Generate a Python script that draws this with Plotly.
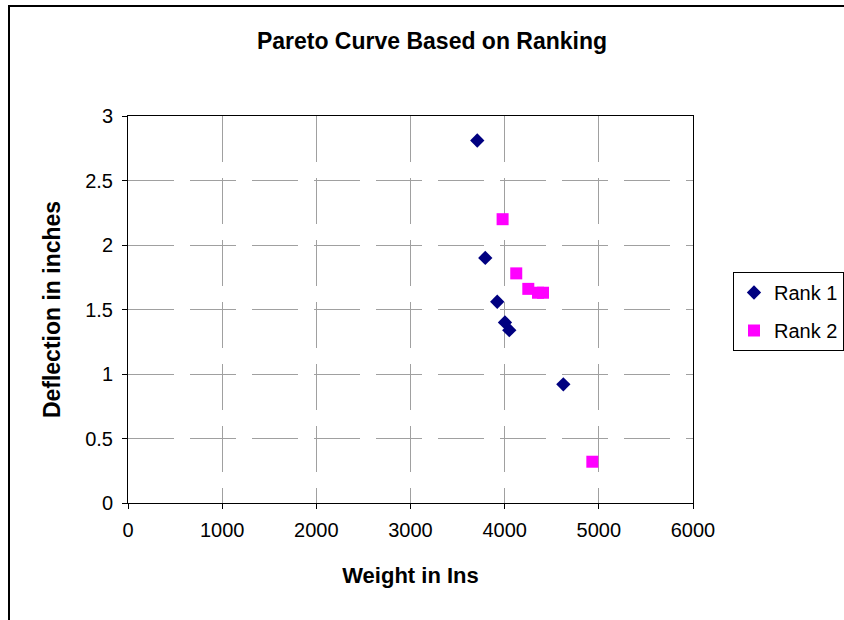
import plotly.graph_objects as go

# Data
rank1_weight = [3709, 3794, 3921, 4003, 4049, 4623]
rank1_deflection = [2.81, 1.90, 1.56, 1.40, 1.34, 0.92]

rank2_weight = [3978, 4123, 4251, 4354, 4407, 4931]
rank2_deflection = [2.20, 1.78, 1.66, 1.63, 1.63, 0.32]

x_ticks = [0, 1000, 2000, 3000, 4000, 5000, 6000]
y_ticks = [0, 0.5, 1, 1.5, 2, 2.5, 3]

FONT = "Liberation Sans, Arial, sans-serif"

W, H = 844, 620
L, R, T, B = 128, 151, 116, 117
pw, ph = W - L - R, H - T - B

fig = go.Figure()
fig.add_trace(go.Scatter(
    x=rank1_weight, y=rank1_deflection, mode="markers", name="Rank 1",
    legendgroup="r1",
    marker=dict(symbol="diamond", size=11, color="#000080"),
))
fig.add_trace(go.Scatter(
    x=rank2_weight, y=rank2_deflection, mode="markers", name="Rank 2",
    legendgroup="r2",
    marker=dict(symbol="square", size=12, color="#FF00FF"),
))

axis_common = dict(
    showline=True, linecolor="black", linewidth=1, mirror=True,
    showgrid=True, gridcolor="#a0a0a0", gridwidth=1, griddash="46px,16px",
    ticks="outside", ticklen=5, tickcolor="black", tickwidth=1,
    zeroline=False,
    tickfont=dict(family=FONT, size=20, color="black"),
)

fig.update_xaxes(
    range=[0, 6000], tickvals=x_ticks, ticktext=[str(v) for v in x_ticks],
    ticklabelstandoff=4,
    title=dict(text="<b>Weight in Ins</b>",
               font=dict(family=FONT, size=22, color="black"), standoff=27),
    **axis_common,
)
fig.update_yaxes(
    range=[0, 3], tickvals=y_ticks, ticktext=[f"{v:g}" for v in y_ticks],
    ticklabelstandoff=5,
    title=dict(text="<b>Deflection in inches</b>",
               font=dict(family=FONT, size=23, color="black"), standoff=18),
    **axis_common,
)

fig.update_layout(
    width=W, height=H,
    margin=dict(l=L, r=R, t=T, b=B, autoexpand=False),
    paper_bgcolor="white", plot_bgcolor="white",
    font=dict(family=FONT, color="black"),
    title=dict(
        text="<b>Pareto Curve Based on Ranking</b>",
        font=dict(family=FONT, size=23, color="black"),
        x=432 / W, xanchor="center", xref="container",
        y=1 - 41 / H, yanchor="middle", yref="container",
    ),
    showlegend=True,
    legend=dict(
        x=(733 - L) / pw, xanchor="left",
        y=(H - B - 272) / ph, yanchor="top",
        bordercolor="black", borderwidth=1, bgcolor="white",
        font=dict(family=FONT, size=20, color="black"),
        traceorder="grouped", tracegroupgap=9,
        itemwidth=30,
    ),
    shapes=[dict(
        type="rect", xref="paper", yref="paper",
        x0=(9 - L) / pw, x1=2.0,
        y0=-2.0, y1=(H - B - 6) / ph,
        line=dict(color="black", width=2), fillcolor="rgba(0,0,0,0)",
        layer="below",
    )],
)

fig.write_html("out.html")
